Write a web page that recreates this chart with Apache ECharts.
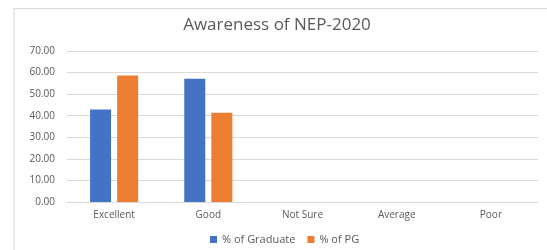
<!DOCTYPE html>
<html>
<head>
<meta charset="utf-8">
<script src="https://cdn.jsdelivr.net/npm/echarts@6/dist/echarts.min.js"></script>
<style>
  html, body { margin: 0; padding: 0; background: #fff; }
  #chart { width: 547px; height: 250px; }
</style>
</head>
<body>
<div id="chart"></div>
<script>
// datos
const categorias = ['Excellent', 'Good', 'Not Sure', 'Average', 'Poor'];
const graduados = [42.86, 57.14, 0, 0, 0];
const posgrado = [58.6, 41.4, 0, 0, 0];

const chart = echarts.init(document.getElementById('chart'));

chart.setOption({
    animation: false,
    textStyle: { fontFamily: 'Open Sans' },
    title: {
        text: 'Awareness of NEP-2020',
        left: 272,
        top: 12,
        textAlign: 'center',
        textStyle: { fontSize: 17, fontWeight: 'normal', color: '#595959' }
    },
    graphic: [{
        type: 'polyline',
        shape: { points: [[14, 260], [14, 8.5], [560, 8.5]] },
        style: { stroke: '#d9d9d9', lineWidth: 1, fill: null }
    }],
    legend: {
        bottom: 0,
        left: 205,
        itemWidth: 7,
        itemHeight: 7,
        itemGap: 12,
        icon: 'rect',
        textStyle: { fontSize: 11, color: '#595959' }
    },
    grid: { left: 67, right: 9, top: 51, bottom: 48 },
    xAxis: {
        type: 'category',
        data: categorias,
        axisLine: { lineStyle: { color: '#d9d9d9' } },
        axisTick: { show: false },
        axisLabel: { color: '#595959', fontSize: 10, margin: 8 }
    },
    yAxis: {
        type: 'value',
        min: 0,
        max: 70,
        interval: 10,
        axisLabel: {
            color: '#595959',
            fontSize: 10,
            margin: 12,
            formatter: v => v.toFixed(2)
        },
        splitLine: { lineStyle: { color: '#d9d9d9' } }
    },
    series: [
        {
            name: '% of Graduate',
            type: 'bar',
            data: graduados,
            barWidth: 21,
            barGap: '29%',
            itemStyle: { color: '#4472c4' }
        },
        {
            name: '% of PG',
            type: 'bar',
            data: posgrado,
            barWidth: 21,
            itemStyle: { color: '#ed7d31' }
        }
    ]
});
</script>
</body>
</html>
